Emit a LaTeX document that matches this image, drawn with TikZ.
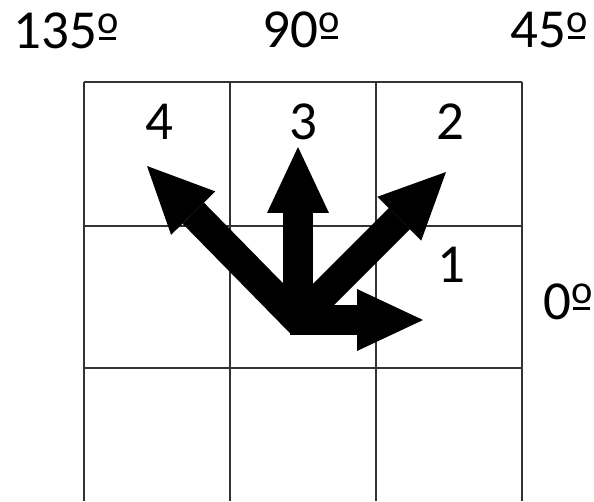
\documentclass[tikz,border=0pt]{standalone}
\usepackage{fontspec}
\setmainfont{Carlito}
\usetikzlibrary{arrows.meta}

% signe degre souligne
\newsavebox{\ordbox}
\newcommand{\ordm}{\sbox{\ordbox}{\fontsize{23}{24}\selectfont o}\rlap{\raisebox{0.29em}{\usebox{\ordbox}}}\kern0.04em\raisebox{0.17em}{\rule{\dimexpr\wd\ordbox-0.08em\relax}{0.055em}}\kern0.04em}

\begin{document}
\begin{tikzpicture}[x=0.02cm,y=0.02cm,
        grille/.style={line width=0.04cm, black!80},
        fleche/.style={line width=0.6cm, -{Triangle[length=1.32cm,width=1.24cm,line width=0pt]}},
        etiq/.style={font=\fontsize{31.3}{36}\selectfont, anchor=base, inner sep=0pt}]
        \useasboundingbox (0,0) rectangle (594,501);

        % Grille 3x3
        \draw[grille] (84,0) -- (84,419);
        \draw[grille] (230,0) -- (230,419);
        \draw[grille] (376,0) -- (376,419);
        \draw[grille] (522,0) -- (522,419);
        \draw[grille] (84,419) -- (522,419);
        \draw[grille] (84,275) -- (522,275);
        \draw[grille] (84,133) -- (522,133);

        % Angles
        \node[etiq] (a135) at (66,452) {135\ordm};
        \node[etiq] (a90) at (301.5,453) {90\ordm};
        \node[etiq] (a45) at (549,453) {45\ordm};
        \node[etiq] (a0) at (568,182) {0\ordm};

        % Numeros des directions
        \node[etiq] (n4) at (159,361) {4};
        \node[etiq] (n3) at (303.5,361) {3};
        \node[etiq] (n2) at (450,361) {2};
        \node[etiq] (n1) at (451,219) {1};

        % Origine commune et bouts des fleches
        \coordinate (o) at (298,181);
        \coordinate (o0) at (290,181);
        \coordinate (o135) at (301,178);
        \coordinate (t0) at (423,181);
        \coordinate (t45) at (446,329);
        \coordinate (t90) at (298,354);
        \coordinate (t135) at (147,335);

        % Fleches
        \draw[fleche] (o0) -- (t0);
        \draw[fleche] (o) -- (t45);
        \draw[fleche] (o) -- (t90);
        \draw[fleche] (o135) -- (t135);

    \end{tikzpicture}
\end{document}
